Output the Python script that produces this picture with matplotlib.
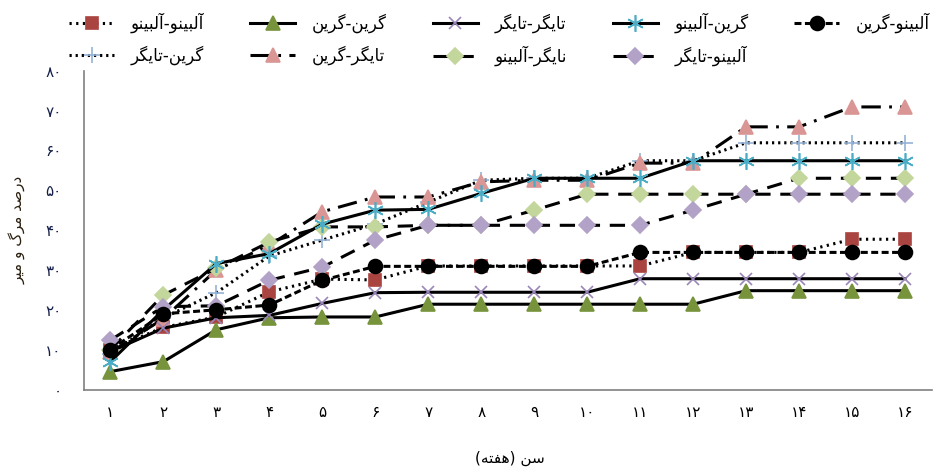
import matplotlib
matplotlib.use("Agg")
import matplotlib.pyplot as plt

plt.rcParams['font.family'] = ['DejaVu Sans']
plt.rcParams['lines.scale_dashes'] = False

# data (mortality %, weeks 1..16)
weeks = list(range(1, 17))
albino_albino = [10, 15.6, 18.2, 24.5, 27.7, 27.5, 31, 31, 31, 31, 31, 34.4, 34.4, 34.4, 37.7, 37.7]
green_green = [4.5, 7, 15, 18, 18.2, 18.2, 21.4, 21.4, 21.4, 21.4, 21.4, 21.4, 24.8, 24.8, 24.8, 24.8]
tiger_tiger = [9.5, 15.4, 18, 18.6, 21.6, 24.3, 24.4, 24.4, 24.4, 24.4, 27.8, 27.8, 27.8, 27.8, 27.8, 27.8]
green_albino = [7, 20, 31.6, 34.1, 41.5, 45, 45.2, 49.2, 53, 53, 53, 57.4, 57.4, 57.4, 57.4, 57.4]
albino_green = [10, 19, 20, 21.2, 27.4, 30.9, 30.9, 30.9, 30.9, 30.9, 34.4, 34.4, 34.4, 34.4, 34.4, 34.4]
green_tiger = [9, 18, 24.3, 33.5, 37.5, 41.5, 47, 52.5, 53, 53, 57.4, 57.4, 61.9, 61.9, 61.9, 61.9]
tiger_green = [9.3, 17.8, 30, 36.2, 44.6, 48.3, 48.3, 52.1, 52.5, 52.5, 56.8, 56.8, 65.9, 65.9, 70.9, 70.9]
tiger_albino = [10, 23.7, 30.4, 37, 40.8, 40.8, 41.2, 41.2, 45, 49, 49, 49, 49, 53, 53, 53]
albino_tiger = [12.4, 20.8, 21, 27.4, 30.7, 37.5, 41.2, 41.2, 41.2, 41.2, 41.2, 45, 49, 49, 49, 49]

y_ticks = [0, 10, 20, 30, 40, 50, 60, 70, 80]

# labels in logical (right-to-left) order
lbl_aa = "آلبینو-آلبینو"
lbl_gg = "گرین-گرین"
lbl_tt = "تایگر-تایگر"
lbl_ga = "گرین-آلبینو"
lbl_ag = "آلبینو-گرین"
lbl_gt = "گرین-تایگر"
lbl_tg = "تایگر-گرین"
lbl_ta = "نایگر-آلبینو"
lbl_at = "آلبینو-تایگر"
y_title = "درصد مرگ و میر"
x_title = "سن (هفته)"

# contextual forms: isolated, final, initial, medial
FORMS = {
    'آ': ('\uFE81', '\uFE82', None, None),
    'ا': ('\uFE8D', '\uFE8E', None, None),
    'ب': ('\uFE8F', '\uFE90', '\uFE91', '\uFE92'),
    'ت': ('\uFE95', '\uFE96', '\uFE97', '\uFE98'),
    'د': ('\uFEA9', '\uFEAA', None, None),
    'ر': ('\uFEAD', '\uFEAE', None, None),
    'س': ('\uFEB1', '\uFEB2', '\uFEB3', '\uFEB4'),
    'ص': ('\uFEB9', '\uFEBA', '\uFEBB', '\uFEBC'),
    'ف': ('\uFED1', '\uFED2', '\uFED3', '\uFED4'),
    'ل': ('\uFEDD', '\uFEDE', '\uFEDF', '\uFEE0'),
    'م': ('\uFEE1', '\uFEE2', '\uFEE3', '\uFEE4'),
    'ن': ('\uFEE5', '\uFEE6', '\uFEE7', '\uFEE8'),
    'ه': ('\uFEE9', '\uFEEA', '\uFEEB', '\uFEEC'),
    'و': ('\uFEED', '\uFEEE', None, None),
    'ی': ('\uFBFC', '\uFBFD', '\uFBFE', '\uFBFF'),
    'گ': ('\uFB92', '\uFB93', '\uFB94', '\uFB95'),
}
MIRROR = {'(': ')', ')': '('}


def rtl(text):
    """Shape Persian text and flip it to visual order."""
    out = []
    for i, ch in enumerate(text):
        if ch not in FORMS:
            out.append(MIRROR.get(ch, ch))
            continue
        prev = text[i - 1] if i > 0 else ''
        nxt = text[i + 1] if i + 1 < len(text) else ''
        join_prev = prev in FORMS and FORMS[prev][2] is not None
        join_next = FORMS[ch][2] is not None and nxt in FORMS
        iso, fin, ini, med = FORMS[ch]
        if join_prev and join_next:
            out.append(med)
        elif join_prev:
            out.append(fin)
        elif join_next:
            out.append(ini)
        else:
            out.append(iso)
    return ''.join(out)[::-1]


def fa_num(n):
    return str(n).translate(str.maketrans('0123456789', '۰۱۲۳۴۵۶۷۸۹'))


fig = plt.figure(figsize=(9.36, 4.71), dpi=100)
ax = fig.add_axes([0.0897, 0.173, 0.9055, 0.677])

lw = 2.2
ms = 9
# order follows the legend, filled column by column
series = [
    (albino_albino, lbl_aa, (0, (1.6, 3.2)), 's', '#AA4440', ms),
    (green_tiger, lbl_gt, (0, (1.6, 2.8)), '+', '#95B3D7', 12),
    (green_green, lbl_gg, '-', '^', '#77933C', ms + 1),
    (tiger_green, lbl_tg, (0, (14, 6, 2, 6)), '^', '#D99694', ms + 1),
    (tiger_tiger, lbl_tt, '-', 'x', '#9A86B8', ms),
    (tiger_albino, lbl_ta, (0, (11, 7)), 'D', '#C3D69B', ms - 1),
    (green_albino, lbl_ga, '-', (6, 2, 0), '#4BACC6', 12),
    (albino_tiger, lbl_at, (0, (11, 7)), 'D', '#B3A2C7', ms - 1),
    (albino_green, lbl_ag, (0, (5, 2.5)), 'o', 'black', ms + 1),
]

for vals, lbl, ls, mk, col, size in series:
    ax.plot(weeks, vals, color='black', lw=lw, linestyle=ls, marker=mk,
            markersize=size, markerfacecolor=col, markeredgecolor=col,
            markeredgewidth=1.2, label=rtl(lbl), zorder=3)

ax.set_xlim(0.5, 16.5)
ax.set_ylim(0, 80)
ax.set_xticks(weeks)
ax.set_xticklabels([fa_num(w) for w in weeks], fontsize=11)
ax.set_yticks(y_ticks)
ax.set_yticklabels([fa_num(v) for v in y_ticks], fontsize=11, color='#15204a')
ax.tick_params(axis='x', length=0, pad=11)
ax.tick_params(axis='y', length=0, pad=16)
for side in ['top', 'right']:
    ax.spines[side].set_visible(False)
for side in ['left', 'bottom']:
    ax.spines[side].set_color('#808080')
    ax.spines[side].set_linewidth(1.2)

ax.set_ylabel(rtl(y_title), fontsize=11, color='#2b2010', labelpad=14)
fig.text(0.545, 0.01, rtl(x_title), fontsize=11, ha='center', va='bottom')

fig.legend(loc='upper left', bbox_to_anchor=(0.058, 1.005), ncol=5, frameon=False,
           fontsize=12, handlelength=2.7, handletextpad=1.0, columnspacing=2.75,
           labelspacing=0.75)

fig.savefig('out.png', dpi=100)
